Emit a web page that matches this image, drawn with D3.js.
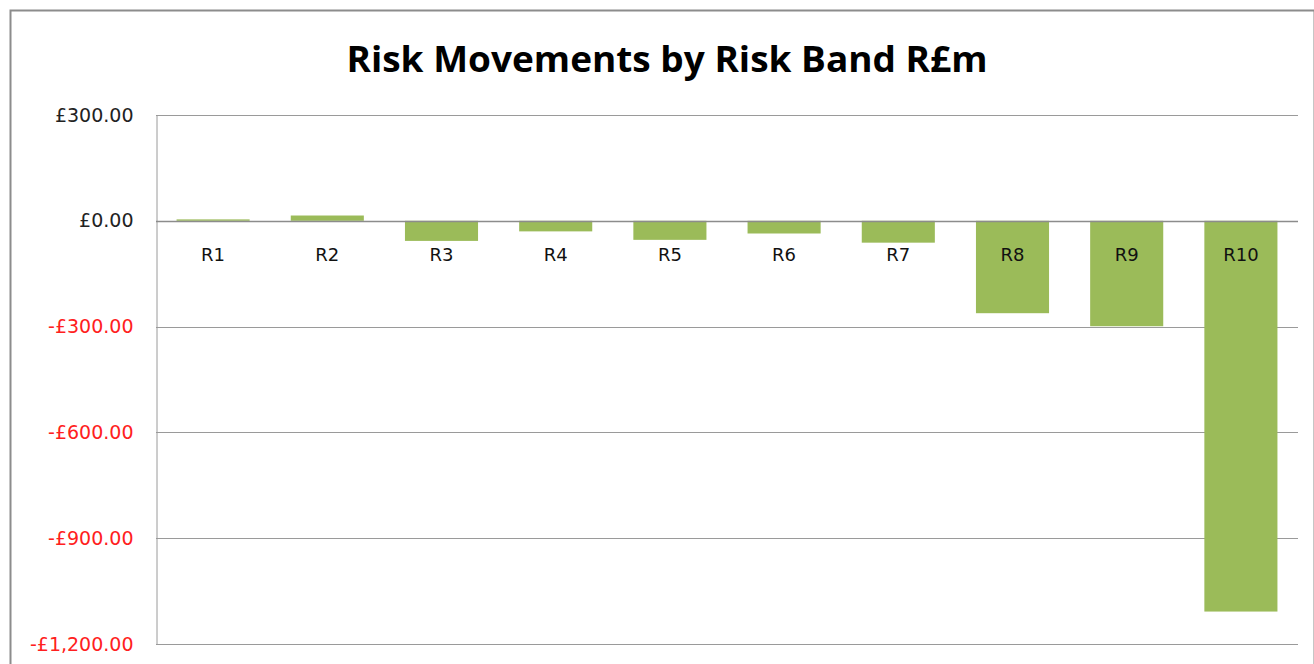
<!DOCTYPE html>
<html>
<head>
<meta charset="utf-8">
<script src="https://cdn.jsdelivr.net/npm/d3@7"></script>
<style>
  html, body { margin: 0; padding: 0; background: #fff; }
  svg { display: block; }
</style>
</head>
<body>
<svg id="chart" width="1314" height="664"></svg>
<script>
// Risk bands and their movement in £m
const categories = ["R1", "R2", "R3", "R4", "R5", "R6", "R7", "R8", "R9", "R10"];
const movements = [4, 15, -57, -30, -54, -36, -62, -262, -299, -1108];
const tickValues = [300, 0, -300, -600, -900, -1200];
const titleText = "Risk Movements by Risk Band R£m";

const svg = d3.select("#chart");
const W = 1314, H = 664;
const labelFont = "'DejaVu Sans', sans-serif";
const titleFont = "'Open Sans', Lato, sans-serif";

// outer chart frame
svg.append("rect")
  .attr("x", 10.5).attr("y", 10.5)
  .attr("width", W - 10).attr("height", H)
  .attr("fill", "#fff")
  .attr("stroke", "#8c8c8c").attr("stroke-width", 2);

const plot = { left: 156, right: 1298, top: 115, bottom: 644 };

const y = d3.scaleLinear().domain([-1200, 300]).range([plot.bottom, plot.top]);
const x = d3.scaleBand().domain(categories)
  .range([plot.left, plot.right])
  .paddingInner(0.36).paddingOuter(0.18);

// horizontal gridlines
svg.append("g")
  .selectAll("line")
  .data(tickValues)
  .join("line")
  .attr("x1", plot.left).attr("x2", plot.right)
  .attr("y1", d => Math.round(y(d)) + 0.5).attr("y2", d => Math.round(y(d)) + 0.5)
  .attr("stroke", "#9a9a9a").attr("stroke-width", 1);

// value axis
const fmt = d => (d < 0 ? "-£" : "£") + d3.format(",.2f")(Math.abs(d));
const yAxis = d3.axisLeft(y).tickValues(tickValues).tickFormat(fmt).tickSize(0).tickPadding(23);
const gy = svg.append("g").attr("transform", `translate(${plot.left + 0.5},0)`).call(yAxis);
gy.select(".domain").attr("stroke", "#9a9a9a");
gy.selectAll("text")
  .attr("font-family", labelFont)
  .attr("font-size", 19)
  .attr("fill", d => d < 0 ? "#ff2020" : "#222");

// bars
svg.append("g")
  .selectAll("rect")
  .data(categories.map((c, i) => ({ c, v: movements[i] })))
  .join("rect")
  .attr("x", d => x(d.c))
  .attr("width", x.bandwidth())
  .attr("y", d => Math.min(y(d.v), y(0)))
  .attr("height", d => Math.abs(y(d.v) - y(0)))
  .attr("fill", "#9bbb59");

// zero line drawn over bars
svg.append("line")
  .attr("x1", plot.left).attr("x2", plot.right)
  .attr("y1", Math.round(y(0)) + 0.5).attr("y2", Math.round(y(0)) + 0.5)
  .attr("stroke", "#8c8c8c").attr("stroke-width", 1.5);

// category labels sit just below the zero line
const xAxis = d3.axisBottom(x).tickSize(0).tickPadding(27);
const gx = svg.append("g").attr("transform", `translate(0,${y(0)})`).call(xAxis);
gx.select(".domain").remove();
gx.selectAll("text")
  .attr("font-family", labelFont)
  .attr("font-size", 18)
  .attr("fill", "#111");

// title
svg.append("text")
  .attr("x", 667).attr("y", 72)
  .attr("text-anchor", "middle")
  .attr("font-family", titleFont)
  .attr("font-weight", "bold")
  .attr("font-size", 35)
  .attr("textLength", 641)
  .attr("lengthAdjust", "spacingAndGlyphs")
  .attr("fill", "#000")
  .text(titleText);
</script>
</body>
</html>
